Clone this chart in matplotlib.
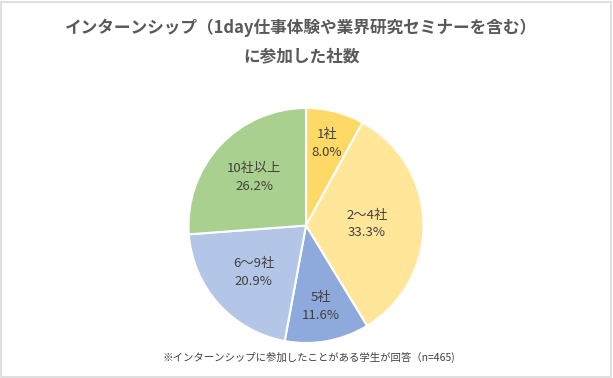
import numpy as np
import matplotlib
matplotlib.use("Agg")
import matplotlib.pyplot as plt
from matplotlib.patches import Rectangle

plt.rcParams["font.family"] = ["Noto Sans CJK JP", "DejaVu Sans"]

categories = ["1社", "2～4社", "5社", "6～9社", "10社以上"]
shares = [8.0, 33.3, 11.6, 20.9, 26.2]
colors = ["#FFD966", "#FFE699", "#8EA9DB", "#B4C6E7", "#A9D08E"]
label_radius = [0.72, 0.52, 0.70, 0.60, 0.60]

title = "インターンシップ（1day仕事体験や業界研究セミナーを含む）\nに参加した社数"
note = "※インターンシップに参加したことがある学生が回答（n=465)"

fig = plt.figure(figsize=(6.13, 3.78), dpi=100)
fig.patch.set_facecolor("white")
fig.patches.append(Rectangle((0.002, 0.003), 0.995, 0.993, transform=fig.transFigure,
                             fill=False, edgecolor="#D9D9D9", linewidth=1.2))

r = 117.5
cx, cy = 306, 225.5
ax = fig.add_axes([(cx - r) / 613, (378 - cy - r) / 378, 2 * r / 613, 2 * r / 378])
wedges, _ = ax.pie(shares, colors=colors, startangle=90, counterclock=False,
                   wedgeprops=dict(edgecolor="white", linewidth=1.5))
ax.set_xlim(-1, 1)
ax.set_ylim(-1, 1)
ax.set_aspect("auto")

for w, cat, val, lr in zip(wedges, categories, shares, label_radius):
    ang = np.deg2rad((w.theta1 + w.theta2) / 2)
    ax.text(lr * np.cos(ang), lr * np.sin(ang), f"{cat}\n{val:.1f}%",
            ha="center", va="center", fontsize=9.5, color="#404040", linespacing=1.45)

fig.text(301 / 613, 1 - 42 / 378, title, ha="center", va="center", fontsize=12,
         fontweight="bold", color="#595959", linespacing=1.75)
fig.text(162 / 613, 1 - 357 / 378, note, ha="left", va="center", fontsize=7.5,
         color="#404040")

fig.savefig("out.png", dpi=100)
